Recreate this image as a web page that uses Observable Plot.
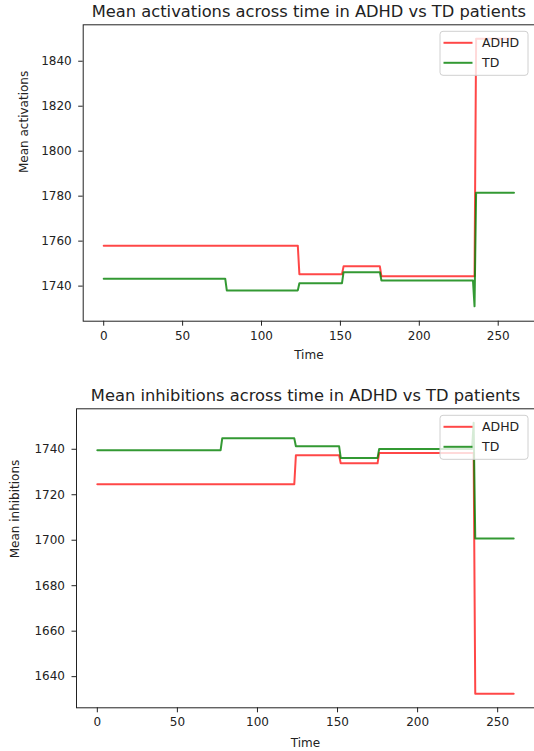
<!DOCTYPE html>
<html>
<head>
<meta charset="utf-8">
<script src="https://cdn.jsdelivr.net/npm/d3@7"></script>
<script src="https://cdn.jsdelivr.net/npm/@observablehq/plot@0.6"></script>
<style>
  html, body { margin: 0; padding: 0; background: white; }
  #chart svg { display: block; }
</style>
</head>
<body>
<div id="chart"></div>
<script>
// ---------- data ----------
const seriesNames = ["ADHD", "TD"];
const seriesColors = ["red", "green"];

const titleTop = "Mean activations across time in ADHD vs TD patients";
const titleBottom = "Mean inhibitions across time in ADHD vs TD patients";
const xLabel = "Time";
const yLabelTop = "Mean activations";
const yLabelBottom = "Mean inhibitions";

const xTicks = [0, 50, 100, 150, 200, 250];
const yTicksTop = [1740, 1760, 1780, 1800, 1820, 1840];
const yTicksBottom = [1640, 1660, 1680, 1700, 1720, 1740];

// activations (breakpoints of the step-like series)
const actAdhdTime = [0, 123, 124, 151, 152, 175, 176, 235, 236, 260];
const actAdhdValue = [1758, 1758, 1745.3, 1745.3, 1748.8, 1748.8, 1744.4, 1744.4, 1850, 1850];
const actTdTime = [0, 77, 78, 123, 124, 151, 152, 175, 176, 234, 235, 236, 260];
const actTdValue = [1743.3, 1743.3, 1738.1, 1738.1, 1741.3, 1741.3, 1746.2, 1746.2, 1742.5, 1742.5, 1731, 1781.5, 1781.5];

// inhibitions
const inhAdhdTime = [0, 123, 124, 151, 152, 175, 176, 235, 236, 260];
const inhAdhdValue = [1724.6, 1724.6, 1737.4, 1737.4, 1733.8, 1733.8, 1738.4, 1738.4, 1632.5, 1632.5];
const inhTdTime = [0, 77, 78, 123, 124, 151, 152, 175, 176, 234, 235, 236, 260];
const inhTdValue = [1739.6, 1739.6, 1744.8, 1744.8, 1741.3, 1741.3, 1736.2, 1736.2, 1740.1, 1740.1, 1751.7, 1700.8, 1700.8];

// ---------- helpers ----------
const toRows = (ts, vs) => ts.map((t, i) => ({t, v: vs[i]}));
const opac = [0.72, 0.8];
const ink = "#222";

function makeChart({title, yLabel, yTicks, yDomain, series, height, marginTop, marginBottom, marginLeft, yLabelDx, xLabelDy}) {
  const width = 534;
  const marginRight = 0;
  const svg = Plot.plot({
    width, height, marginTop, marginBottom, marginLeft, marginRight,
    style: {fontFamily: "DejaVu Sans", fontSize: "12px", color: ink, background: "white", overflow: "visible"},
    x: {domain: [-13, 273]},
    y: {domain: yDomain},
    marks: [
      Plot.axisX({ticks: xTicks, tickSize: 5, tickPadding: 5, label: null, fontSize: 12, stroke: ink}),
      Plot.axisY({ticks: yTicks, tickSize: 4.5, tickPadding: 7, label: null, fontSize: 12, tickFormat: d => String(d), stroke: ink}),
      ...series.map((s, i) => Plot.line(s, {x: "t", y: "v", stroke: seriesColors[i], strokeOpacity: opac[i], strokeWidth: 2})),
      Plot.frame({stroke: ink, strokeWidth: 1}),
      Plot.text([title], {text: d => d, frameAnchor: "top", dy: -7.5, lineAnchor: "bottom", fontSize: 16.3, fill: ink}),
      Plot.text([yLabel], {text: d => d, frameAnchor: "left", dx: yLabelDx, rotate: -90, lineAnchor: "middle", fontSize: 12, fill: ink}),
      Plot.text([xLabel], {text: d => d, frameAnchor: "bottom", dy: xLabelDy, lineAnchor: "middle", fontSize: 12, fill: ink})
    ]
  });
  // legend (upper right, inside the frame)
  const boxW = 88, boxH = 44;
  const bx = width - marginRight - 6 - boxW;
  const by = marginTop + 7;
  const g = d3.select(svg).append("g").attr("text-anchor", "start");
  g.append("rect").attr("x", bx).attr("y", by).attr("width", boxW).attr("height", boxH)
    .attr("rx", 3).attr("fill", "white").attr("fill-opacity", 0.8)
    .attr("stroke", "#d0d0d0").attr("stroke-width", 1);
  seriesNames.forEach((name, i) => {
    const yy = by + 11.5 + i * 20;
    g.append("line").attr("x1", bx + 3.5).attr("x2", bx + 32.5).attr("y1", yy).attr("y2", yy)
      .attr("stroke", seriesColors[i]).attr("stroke-opacity", opac[i]).attr("stroke-width", 2);
    g.append("text").attr("x", bx + 42).attr("y", yy).attr("dy", "0.35em")
      .attr("text-anchor", "start")
      .attr("font-family", "DejaVu Sans").attr("font-size", 12.5).attr("fill", ink).text(name);
  });
  return svg;
}

const chart = document.getElementById("chart");
chart.appendChild(makeChart({
  title: titleTop, yLabel: yLabelTop, yTicks: yTicksTop, yDomain: [1724.4, 1856.2],
  series: [toRows(actAdhdTime, actAdhdValue), toRows(actTdTime, actTdValue)],
  height: 375, marginTop: 24.3, marginBottom: 54.3, marginLeft: 82.7, yLabelDx: -59, xLabelDy: 34.3
}));
chart.appendChild(makeChart({
  title: titleBottom, yLabel: yLabelBottom, yTicks: yTicksBottom, yDomain: [1626.3, 1757.8],
  series: [toRows(inhAdhdTime, inhAdhdValue), toRows(inhTdTime, inhTdValue)],
  height: 376, marginTop: 33.3, marginBottom: 43.7, marginLeft: 76, yLabelDx: -61, xLabelDy: 35.4
}));
</script>
</body>
</html>
